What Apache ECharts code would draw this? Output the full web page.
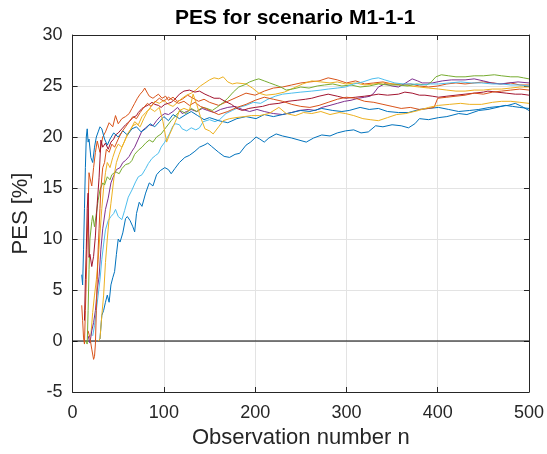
<!DOCTYPE html>
<html><head><meta charset="utf-8">
<script src="https://cdn.jsdelivr.net/npm/echarts@6/dist/echarts.min.js"></script>
<style>html,body{margin:0;padding:0;background:#fff}#c{width:547px;height:454px}</style>
</head><body><div id="c"></div>
<script>
const title = 'PES for scenario M1-1-1';
const xLabel = 'Observation number n';
const yLabel = 'PES [%]';
const xTicks = [0,100,200,300,400,500];
const yTicks = [-5,0,5,10,15,20,25,30];
const colors = ['#0072BD','#D95319','#EDB120','#7E2F8E','#77AC30','#4DBEEE','#A2142F','#0072BD','#D95319','#EDB120'];

const s1 = [[28,0],[30,0.2],[32,2.5],[34,3],[36,3.8],[38,4.5],[40,3.8],[42,5.5],[44,6.2],[46,6.8],[48,8.5],[50,10],[52,9.7],[55,10.6],[58,12],[60,12.2],[63,11.8],[66,11.2],[68,10.7],[70,12.5],[73,13.6],[76,13.2],[80,14.5],[84,15.5],[88,15.2],[92,16.3],[96,16.7],[101,17],[105,16.8],[108,16.4],[112,16.9],[117,17.5],[123,18],[128,18.2],[134,18.6],[139,19],[144,19.2],[148,19.4],[152,19.1],[156,18.8],[160,18.5],[166,18.1],[172,18],[178,18.3],[183,18.4],[190,19.2],[195,19.5],[201,20],[205,19.8],[210,19.5],[215,19.9],[223,20.3],[230,20.1],[240,19.9],[248,19.7],[256,19.5],[264,19.9],[273,20.2],[282,20.1],[290,20.4],[299,20.6],[308,20.7],[316,20.4],[324,20.5],[332,21.1],[340,21.0],[350,21.2],[360,21.1],[368,20.9],[375,21.3],[380,21.8],[390,21.7],[401,21.9],[410,22.0],[423,22.3],[432,22.2],[445,22.6],[455,22.7],[465,22.9],[474,23.1],[482,23.0],[490,22.9],[500,22.8]];
const s2 = [[10,3.5],[11,2],[12,0.3],[13,-0.3],[14,3],[15,6],[16,10],[17,13],[18,16.5],[19,16],[21,15.2],[23,17],[25,18.5],[27,19.6],[30,18.5],[33,20],[36,20.5],[40,21.4],[44,21],[47,22.1],[50,21.3],[54,21.8],[58,22],[62,22.3],[65,22.8],[68,23.3],[71,23.8],[74,24.2],[77,24.5],[79,24.8],[82,24.3],[84,24],[88,23.8],[91,24],[94,24.2],[98,23.8],[102,24],[105,23.6],[110,23.9],[115,23.5],[120,23.7],[126,24.1],[132,23.8],[138,23.5],[144,23.7],[150,23.4],[160,23.1],[170,23.5],[180,23.9],[190,24.3],[200,24.1],[210,24.5],[220,24.8],[230,24.9],[240,25.1],[250,25.3],[260,25.4],[270,25.5],[280,25.8],[290,25.6],[300,25.3],[310,25.5],[320,25.2],[330,25.3],[340,25.4],[350,25.2],[360,25.1],[370,25.2],[380,25.0],[390,24.9],[400,25.0],[410,25.2],[420,25.3],[430,25.2],[440,25.3],[450,25.4],[460,25.3],[470,25.2],[480,25.3],[490,25.1],[500,25.1]];
const s3 = [[20,0.5],[22,2.8],[24,4.5],[26,6],[28,8],[30,10.5],[32,13],[34,15],[36,16.5],[38,17.5],[41,17],[44,18],[47,18.8],[50,19.3],[54,19],[58,19.8],[62,20.5],[66,21.1],[70,21.3],[74,21.0],[78,21.8],[82,22.5],[86,23],[90,23.5],[95,23.3],[100,23.6],[105,23.2],[110,23.0],[115,23.4],[120,23.8],[125,24.1],[130,24.3],[135,24.6],[140,25.0],[145,25.3],[150,25.6],[155,25.8],[160,25.7],[165,25.9],[170,25.4],[175,25.2],[180,25.3],[190,25.2],[197,24.8],[204,24.3],[212,24.1],[222,24.2],[232,24.4],[242,24.8],[252,25.2],[262,25.5],[272,25.4],[282,25.3],[290,25.4],[299,25.2],[310,25.3],[320,25.1],[330,25.2],[340,25.3],[350,25.2],[360,25.2],[370,25.0],[380,24.9],[390,24.8],[401,24.7],[410,24.6],[420,24.5],[430,24.5],[440,24.6],[450,24.6],[460,24.7],[470,24.7],[480,24.8],[490,24.9],[500,24.9]];
const s4 = [[17,0.5],[19,-0.2],[21,1],[23,1.8],[25,3],[27,5],[29,6.3],[31,9],[33,11],[36,12.9],[39,14],[42,15.5],[45,16.2],[48,16.8],[52,17],[55,17.5],[58,17.7],[62,18.1],[65,18.6],[68,19],[72,19.8],[76,20.6],[80,20.9],[84,21.2],[88,21.1],[92,21.6],[96,22],[101,22.3],[105,22.2],[110,22.5],[115,22.9],[120,22.3],[125,22.5],[130,22.7],[136,22.5],[142,22.8],[148,22.6],[155,22.4],[162,22.7],[170,22.9],[178,23.0],[186,22.7],[194,22.5],[202,22.7],[210,22.5],[220,22.3],[230,22.2],[240,22.4],[248,22.6],[258,22.7],[266,22.6],[273,22.9],[282,23.1],[290,23.3],[298,23.5],[305,23.6],[313,23.8],[320,23.9],[326,24.0],[330,24.3],[335,24.9],[342,25.2],[350,25.0],[357,24.9],[365,25.3],[372,25.7],[378,25.5],[383,25.3],[394,25.3],[405,25.5],[415,25.6],[430,25.6],[440,25.7],[450,25.5],[459,25.3],[468,25.2],[478,25.3],[488,25.4],[500,25.3]];
const s5 = [[14,0],[16,-0.3],[17,3],[18,7],[19,10],[21,11.7],[22,12.3],[24,11.2],[26,12.5],[28,13.8],[30,14.8],[33,15.5],[35,15.3],[38,16.1],[41,15.8],[43,16.3],[47,16.6],[51,16.4],[54,16.9],[58,17.3],[62,17.4],[65,17.7],[68,18.3],[72,18.7],[76,19],[80,19.4],[84,19.7],[88,19.5],[92,20.0],[97,20.3],[102,20.9],[108,21.6],[113,22.1],[118,22.6],[124,22.3],[130,22.8],[136,22.5],[142,22.9],[147,22.8],[153,22.6],[158,22.9],[164,23.3],[170,23.8],[176,24.4],[182,24.9],[188,25.1],[194,25.4],[200,25.6],[204,25.7],[210,25.5],[216,25.3],[222,25.1],[228,24.9],[234,24.6],[241,24.7],[250,24.9],[259,24.8],[268,25.0],[276,25.1],[285,25.2],[295,25.0],[305,25.1],[315,24.9],[325,25.0],[335,25.2],[345,25.1],[357,25.1],[367,25.0],[377,25.2],[388,25.1],[393,25.4],[398,25.9],[404,26.1],[412,26.0],[420,25.9],[430,25.9],[440,26.0],[450,26.0],[462,26.1],[470,26.0],[480,25.9],[488,25.9],[494,25.8],[500,25.7]];
const s6 = [[22,0.5],[24,1.5],[26,3],[28,4.5],[30,6],[32,8],[34,9.5],[36,10.9],[39,11.8],[42,12.2],[45,12.5],[47,12.9],[50,12.2],[54,11.9],[57,12.8],[61,14.1],[65,14.8],[69,15.6],[72,16.1],[76,16.3],[80,16.9],[83,17.4],[87,17.9],[91,18.2],[94,18.4],[97,19],[101,19.5],[103,19.4],[106,20.3],[110,21.1],[113,21.3],[117,21.2],[120,20.8],[125,20.6],[130,20.9],[135,20.7],[139,20.9],[143,21.5],[150,21.7],[156,21.5],[161,21.7],[168,22.3],[175,22.6],[182,22.9],[190,23.1],[198,23.4],[206,23.3],[214,23.7],[222,24.0],[230,24.2],[240,24.3],[250,24.4],[262,24.5],[272,24.6],[280,24.7],[290,24.8],[299,24.9],[308,25.2],[318,25.4],[328,25.7],[335,25.8],[342,25.6],[353,25.3],[362,25.2],[372,25.2],[382,25.1],[392,25.2],[401,25.2],[413,25.3],[425,25.4],[437,25.3],[448,25.3],[460,25.2],[470,25.2],[480,25.1],[490,25.1],[500,25.0]];
const s7 = [[13,2],[14,6],[15,9],[16,13],[17,14.5],[18,8.2],[19,8.5],[21,7.3],[23,8.3],[25,10.3],[27,13.5],[29,16],[31,19.7],[33,19],[36,19.4],[39,18.8],[42,19.5],[45,19.8],[47,20.2],[50,20.4],[54,20.8],[58,21.2],[62,21.5],[66,21.9],[70,22.1],[72,22.4],[76,22.8],[80,23],[84,23.2],[87,23.4],[90,23.2],[94,23.1],[97,22.9],[101,23.2],[105,23.3],[108,23.4],[112,23.7],[117,24.2],[122,24.5],[128,24.6],[134,24.4],[139,24.5],[145,24.2],[150,24.0],[155,23.8],[161,23.8],[167,23.5],[174,23.2],[180,22.8],[186,22.6],[193,22.8],[200,22.9],[208,23.0],[216,23.2],[226,23.3],[236,23.5],[246,23.6],[255,23.7],[262,23.8],[270,24.0],[280,24.2],[290,24.0],[299,23.8],[310,23.9],[320,24.0],[328,24.1],[335,24.2],[345,24.1],[357,24.2],[364,24.4],[372,24.3],[380,24.1],[386,24.1],[394,24.0],[401,23.9],[410,24.0],[420,24.1],[430,24.2],[440,24.3],[450,24.4],[455,24.5],[465,24.4],[475,24.3],[485,24.2],[492,24.2],[500,24.1]];
const s8 = [[10,6.5],[11,5.5],[12,9],[13,13],[14,17],[15,20],[16,20.8],[17,19.5],[18,19.8],[20,18],[22,17.5],[24,19],[26,20],[28,20.5],[30,21],[32,20.8],[35,19.8],[38,19.2],[41,19.8],[45,20.4],[50,20],[55,20.6],[60,20.2],[65,20.8],[70,21],[75,20.5],[80,20.8],[85,21.3],[90,21.0],[95,21.5],[100,22],[105,21.6],[110,22.2],[117,21.8],[124,22.2],[130,22.5],[137,22.1],[144,21.7],[150,21.9],[160,21.6],[170,21.4],[180,21.8],[190,22.0],[201,21.8],[210,22.2],[220,22.0],[230,22.2],[240,22.4],[250,22.6],[260,22.5],[273,22.8],[285,22.6],[295,22.5],[303,22.6],[315,22.9],[325,22.7],[335,22.8],[345,22.5],[357,22.4],[368,22.4],[380,22.7],[390,22.8],[401,22.9],[412,22.7],[423,22.5],[435,22.6],[445,22.7],[457,22.9],[468,23.0],[477,23.1],[485,23.3],[492,23.0],[500,22.6]];
const s9 = [[17,1],[19,0.3],[21,-0.8],[23,-1.8],[24,-1.5],[25,-0.3],[26,3],[27,6],[28,9],[29,11],[30,13],[31,15],[33,17],[35,17.5],[37,18.8],[40,18.5],[43,19.3],[46,19],[50,19.8],[54,20.5],[58,21],[62,21.5],[66,22],[70,21.8],[74,22.4],[78,22.9],[82,23.3],[86,23.0],[90,23.4],[95,23.8],[100,23.5],[105,23.9],[110,23.6],[116,23.3],[122,23.5],[128,23.1],[134,23.4],[140,23.0],[146,22.8],[150,22.6],[160,22.2],[170,22.5],[180,22.9],[190,23.2],[200,23.6],[210,23.9],[220,23.7],[230,23.5],[240,23.2],[250,23.0],[260,22.9],[270,23.1],[280,23.4],[290,23.7],[300,23.9],[310,23.8],[320,23.5],[330,23.4],[340,23.2],[350,23.0],[360,22.8],[370,22.9],[380,22.7],[390,22.8],[396,22.9],[400,23.8],[410,23.9],[420,24.0],[430,24.1],[440,24.3],[450,24.2],[460,24.4],[470,24.5],[480,24.6],[490,24.7],[500,24.6]];
const s10 = [[28,0],[30,0.2],[32,2.5],[34,4.5],[36,7.7],[38,10],[40,12],[42,13.5],[44,15],[46,16.5],[48,17.5],[51,18.3],[54,19],[57,19.6],[60,20.3],[64,20.8],[68,21.5],[72,21.2],[76,22],[80,22.4],[85,22.8],[90,22.5],[95,22.9],[99,21.5],[103,19.5],[106,20.2],[110,21],[114,21.8],[117,22.6],[122,22.8],[128,22.6],[132,24.2],[136,23.2],[140,22],[145,20.8],[150,20.6],[154,20.3],[160,21],[165,21.6],[172,21.8],[179,21.9],[188,22.0],[196,22.1],[205,22.1],[215,22.3],[226,22.9],[234,22.3],[244,22.1],[253,22.4],[262,22.3],[272,22.5],[282,22.2],[292,22.4],[299,22.3],[308,22.1],[318,21.8],[326,21.7],[335,21.6],[345,21.9],[355,22.2],[365,22.3],[379,22.6],[390,22.9],[401,23.1],[413,23.2],[425,23.3],[435,23.2],[448,23.2],[460,23.4],[470,23.5],[480,23.5],[490,23.4],[500,23.3]];
const allSeries = [s1,s2,s3,s4,s5,s6,s7,s8,s9,s10];
const zeroLine = [[0,0],[500,0]];

const FONT = 'Liberation Sans, Arial, sans-serif';
const axisCol = '#262626';
const chart = echarts.init(document.getElementById('c'), null, {renderer:'canvas'});
const series = allSeries.map((d,i)=>({
  type:'line', data:d, showSymbol:false, symbol:'none', animation:false,
  lineStyle:{width:1, color:colors[i]}, itemStyle:{color:colors[i]}, z:3+i
}));
series.unshift({type:'line', data:zeroLine, symbol:'none', animation:false, lineStyle:{width:1.2,color:'#000'}, z:2});
const commonAxis = {
  axisLine:{show:true, onZero:false, lineStyle:{color:axisCol,width:1}},
  axisTick:{show:true, inside:true, length:5, lineStyle:{color:axisCol}},
};
chart.setOption({
  backgroundColor:'#fff',
  animation:false,
  title:{text:title, left:170, top:3, textStyle:{fontFamily:FONT, fontSize:21, fontWeight:'bold', color:'#000'}},
  grid:{left:72.6, right:16, top:35, bottom:62, containLabel:false},
  xAxis:[
    Object.assign({type:'value', min:xTicks[0], max:xTicks[xTicks.length-1], interval:100,
      name:xLabel, nameLocation:'middle', nameGap:35,
      nameTextStyle:{fontFamily:FONT, fontSize:22, color:axisCol},
      axisLabel:{fontFamily:FONT, fontSize:18, color:axisCol, margin:12},
      splitLine:{show:true, lineStyle:{color:'#e3e3e3', width:1}}}, commonAxis),
    Object.assign({type:'value', position:'top', min:0, max:500, interval:100,
      axisLabel:{show:false}, splitLine:{show:false}}, commonAxis)
  ],
  yAxis:[
    Object.assign({type:'value', min:yTicks[0], max:yTicks[yTicks.length-1], interval:5,
      name:yLabel, nameLocation:'middle', nameGap:34, nameRotate:90,
      nameTextStyle:{fontFamily:FONT, fontSize:22, color:axisCol},
      axisLabel:{fontFamily:FONT, fontSize:18, color:axisCol, margin:10},
      splitLine:{show:true, lineStyle:{color:'#e3e3e3', width:1}}}, commonAxis),
    Object.assign({type:'value', position:'right', min:-5, max:30, interval:5,
      axisLabel:{show:false}, splitLine:{show:false}}, commonAxis)
  ],
  series: series
});
</script></body></html>
